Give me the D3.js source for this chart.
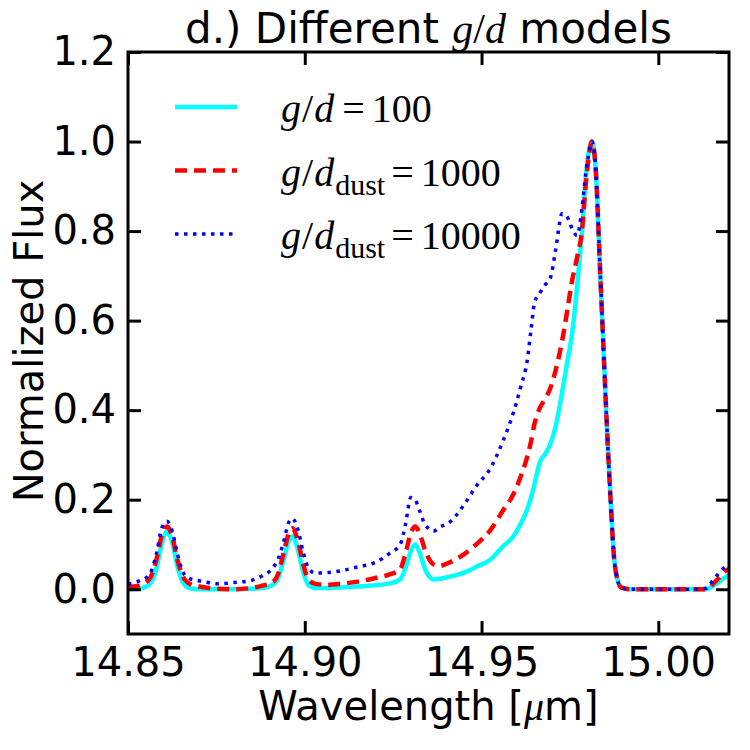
<!DOCTYPE html>
<html>
<head>
    <meta charset="UTF-8">
    <title>Different g/d models</title>
    <style>
        body { margin: 0; background: #fff; }
        .tick text { font: 40px "DejaVu Sans", sans-serif; fill: #000; }
        .axis-label { font: 40px "DejaVu Sans", sans-serif; fill: #000; }
        .title { font: 42px "DejaVu Sans", sans-serif; fill: #000; }
        .math { font-family: "Liberation Serif", serif; }
    </style>
    <script src="https://d3js.org/d3.v7.min.js"></script>
</head>
<body>
<div id="chart"></div>
<script>
    // wavelength grid [micron] shared by the three models
    const wavelength = [
        14.850, 14.853, 14.856, 14.858, 14.8595, 14.861, 14.8625, 14.864, 14.866, 14.868,
        14.871, 14.875, 14.880, 14.885, 14.888, 14.891, 14.8925, 14.894, 14.8955, 14.8965,
        14.898, 14.8995, 14.901, 14.903, 14.906, 14.910, 14.915, 14.920, 14.924, 14.927,
        14.9285, 14.930, 14.9312, 14.9325, 14.934, 14.9365, 14.938, 14.941, 14.945, 14.9485,
        14.9525, 14.956, 14.959, 14.961, 14.963, 14.964, 14.965, 14.9665, 14.968, 14.9695,
        14.971, 14.9728, 14.9742, 14.9756, 14.977, 14.9784, 14.9795, 14.9805, 14.9812, 14.9822,
        14.9835, 14.9844, 14.9855, 14.9865, 14.9875, 14.9885, 14.9895, 14.992, 15.000, 15.008,
        15.0135, 15.0155, 15.017, 15.0189, 15.020
    ];
    const fluxGd100 = [
        0.000, 0.001, 0.010, 0.045, 0.100, 0.128, 0.105, 0.050, 0.010, 0.001,
        0.000, 0.000, 0.000, 0.001, 0.003, 0.010, 0.025, 0.065, 0.108, 0.118,
        0.090, 0.040, 0.010, 0.003, 0.003, 0.004, 0.006, 0.009, 0.013, 0.022,
        0.048, 0.085, 0.100, 0.082, 0.045, 0.022, 0.023, 0.028, 0.037, 0.050,
        0.066, 0.095, 0.118, 0.145, 0.180, 0.205, 0.235, 0.284, 0.302, 0.325,
        0.365, 0.440, 0.505, 0.570, 0.673, 0.800, 0.920, 0.985, 1.000, 0.950,
        0.720, 0.556, 0.357, 0.200, 0.070, 0.020, 0.004, 0.000, 0.000, 0.000,
        0.000, 0.008, 0.016, 0.026, 0.030
    ];
    const fluxGd1000 = [
        0.005, 0.008, 0.022, 0.065, 0.118, 0.140, 0.118, 0.065, 0.022, 0.010,
        0.005, 0.001, 0.000, 0.003, 0.008, 0.016, 0.035, 0.080, 0.125, 0.136,
        0.110, 0.058, 0.022, 0.012, 0.010, 0.012, 0.017, 0.025, 0.033, 0.045,
        0.080, 0.125, 0.140, 0.125, 0.088, 0.055, 0.052, 0.060, 0.078, 0.100,
        0.132, 0.175, 0.212, 0.250, 0.298, 0.330, 0.370, 0.405, 0.425, 0.450,
        0.490, 0.555, 0.620, 0.688, 0.740, 0.800, 0.905, 0.975, 1.000, 0.950,
        0.720, 0.556, 0.357, 0.200, 0.070, 0.020, 0.004, 0.000, 0.000, 0.000,
        0.000, 0.012, 0.024, 0.040, 0.045
    ];
    const fluxGd10000 = [
        0.011, 0.018, 0.032, 0.078, 0.135, 0.152, 0.130, 0.078, 0.032, 0.022,
        0.018, 0.012, 0.015, 0.020, 0.030, 0.048, 0.068, 0.105, 0.150, 0.158,
        0.135, 0.085, 0.048, 0.036, 0.037, 0.041, 0.050, 0.060, 0.080, 0.100,
        0.145, 0.205, 0.200, 0.175, 0.145, 0.130, 0.138, 0.150, 0.188, 0.230,
        0.270, 0.330, 0.394, 0.450, 0.515, 0.580, 0.640, 0.662, 0.680, 0.696,
        0.760, 0.839, 0.832, 0.806, 0.790, 0.850, 0.930, 0.980, 1.000, 0.950,
        0.720, 0.556, 0.357, 0.200, 0.070, 0.020, 0.004, 0.000, 0.000, 0.000,
        0.002, 0.020, 0.035, 0.050, 0.055
    ];
    const xTicks = [14.85, 14.90, 14.95, 15.00];
    const yTicks = [0.0, 0.2, 0.4, 0.6, 0.8, 1.0, 1.2];

    const series = [
        {values: fluxGd100, color: "#00ffff", width: 4.5, dash: null, value: "100", sub: false},
        {values: fluxGd1000, color: "#ff0000", width: 4.5, dash: "12,7", value: "1000", sub: true},
        {values: fluxGd10000, color: "#0000ff", width: 3.5, dash: "3.5,5.5", value: "10000", sub: true}
    ];

    const margin = {top: 52, right: 21, bottom: 116, left: 128};
    const width = 750 - margin.left - margin.right;
    const height = 750 - margin.top - margin.bottom;

    const svg = d3.select("#chart")
        .append("svg")
            .attr("width", 750)
            .attr("height", 750)
        .append("g")
            .attr("transform", `translate(${margin.left},${margin.top})`);

    const x = d3.scaleLinear().domain([14.85, 15.02]).range([0, width]);
    const y = d3.scaleLinear().domain([-0.1, 1.2]).range([height, 0]);

    svg.append("clipPath").attr("id", "clip")
        .append("rect").attr("width", width).attr("height", height);

    // lines
    const line = d3.line()
        .x((d, i) => x(wavelength[i]))
        .y(d => y(d))
        .curve(d3.curveMonotoneX);

    series.forEach(s => {
        svg.append("path")
            .datum(s.values)
            .attr("clip-path", "url(#clip)")
            .attr("fill", "none")
            .attr("stroke", s.color)
            .attr("stroke-width", s.width)
            .attr("stroke-dasharray", s.dash)
            .attr("stroke-linejoin", "round")
            .attr("d", line);
    });

    // axes, ticks pointing inward on all four sides
    function styleAxis(g) {
        g.select(".domain").remove();
        g.selectAll(".tick line").attr("stroke", "#000").attr("stroke-width", 3);
    }
    svg.append("g")
        .attr("transform", `translate(0,${height})`)
        .call(d3.axisBottom(x).tickValues(xTicks).tickFormat(d3.format(".2f"))
            .tickSizeInner(-13).tickSizeOuter(0).tickPadding(14))
        .call(styleAxis);
    svg.append("g")
        .call(d3.axisTop(x).tickValues(xTicks).tickFormat("").tickSizeInner(-13).tickSizeOuter(0))
        .call(styleAxis);
    svg.append("g")
        .call(d3.axisLeft(y).tickValues(yTicks).tickFormat(d3.format(".1f"))
            .tickSizeInner(-13).tickSizeOuter(0).tickPadding(12))
        .call(styleAxis);
    svg.append("g")
        .attr("transform", `translate(${width},0)`)
        .call(d3.axisRight(y).tickValues(yTicks).tickFormat("").tickSizeInner(-13).tickSizeOuter(0))
        .call(styleAxis);

    svg.append("rect")
        .attr("width", width)
        .attr("height", height)
        .attr("fill", "none")
        .attr("stroke", "#000")
        .attr("stroke-width", 3);

    // axis labels
    const xl = svg.append("text")
        .attr("class", "axis-label")
        .attr("text-anchor", "middle")
        .attr("x", width / 2)
        .attr("y", height + 86);
    xl.append("tspan").text("Wavelength [");
    xl.append("tspan").attr("class", "math").attr("font-style", "italic").text("μ");
    xl.append("tspan").text("m]");

    svg.append("text")
        .attr("class", "axis-label")
        .attr("text-anchor", "middle")
        .attr("transform", `translate(-85,${height / 2 - 2}) rotate(-90)`)
        .text("Normalized Flux");

    // title
    const title = svg.append("text")
        .attr("class", "title")
        .attr("text-anchor", "middle")
        .attr("x", width / 2)
        .attr("y", -9);
    title.append("tspan").text("d.) Different ");
    title.append("tspan").attr("class", "math").attr("font-style", "italic").text("g");
    title.append("tspan").attr("class", "math").text("/");
    title.append("tspan").attr("class", "math").attr("font-style", "italic").text("d");
    title.append("tspan").text(" models");

    // legend
    const legend = svg.append("g").attr("transform", "translate(47,55)");
    series.forEach((s, i) => {
        const row = legend.append("g").attr("transform", `translate(0,${i * 63.5})`);
        row.append("line")
            .attr("x1", 0).attr("x2", 62)
            .attr("stroke", s.color)
            .attr("stroke-width", s.width)
            .attr("stroke-dasharray", s.dash);
        const t = row.append("text")
            .attr("class", "math")
            .attr("font-size", 40)
            .attr("x", 106)
            .attr("y", 15);
        t.append("tspan").attr("font-style", "italic").text("g");
        t.append("tspan").attr("dx", 1).text("/");
        t.append("tspan").attr("dx", 1).attr("font-style", "italic").text("d");
        if (s.sub) {
            t.append("tspan").attr("font-size", 30).attr("dx", 1).attr("dy", 9).text("dust");
            t.append("tspan").attr("dy", -9).attr("dx", 6).text("=");
        } else {
            t.append("tspan").attr("dx", 8).text("=");
        }
        t.append("tspan").attr("dx", 7).text(s.value);
    });
</script>
</body>
</html>
